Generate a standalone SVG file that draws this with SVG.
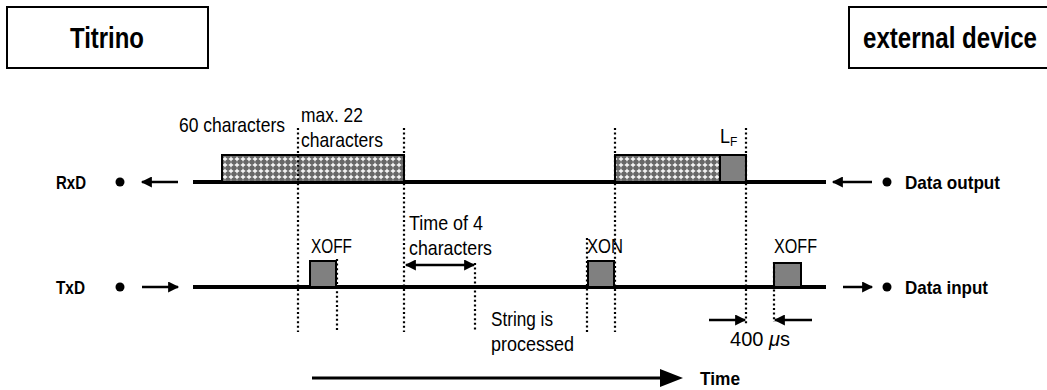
<svg xmlns="http://www.w3.org/2000/svg" width="1047" height="390" viewBox="0 0 1047 390">
  <style>
    .box { fill: #fff; stroke: #000; stroke-width: 2; }
    .title { font-family: "Liberation Sans", Arial, sans-serif; font-weight: bold; font-size: 30px; fill: #000; }
    .lbl { font-family: "Liberation Sans", Arial, sans-serif; font-weight: bold; font-size: 19px; fill: #000; }
    .txt { font-family: "Liberation Sans", Arial, sans-serif; font-size: 21px; fill: #000; }
    .sig { stroke: #000; stroke-width: 4; fill: none; }
    .dot { stroke: #000; stroke-width: 2.2; stroke-dasharray: 2 2.6; fill: none; }
    .arr { stroke: #000; stroke-width: 2.5; fill: none; }
    .hatch { fill: url(#xhatch); stroke: #000; stroke-width: 2; }
    .char { fill: #808080; stroke: #000; stroke-width: 2; }
  </style>
  <defs>
    <pattern id="xhatch" width="6" height="6" patternUnits="userSpaceOnUse">
      <rect width="6" height="6" fill="#686868"/>
      <path d="M3 0.8V5.2M0.8 3H5.2" stroke="#fff" stroke-width="1.3"/>
    </pattern>
    <marker id="ah" viewBox="0 0 10 10" refX="9" refY="5" markerWidth="5.5" markerHeight="4.4" markerUnits="strokeWidth" orient="auto-start-reverse">
      <path d="M0 0L10 5L0 10Z" fill="#000"/>
    </marker>
  </defs>

  <!-- devices -->
  <g id="titrino">
    <rect class="box" x="7" y="7" width="201" height="61"/>
    <text class="title" x="70" y="48" textLength="74" lengthAdjust="spacingAndGlyphs">Titrino</text>
  </g>
  <g id="external-device">
    <!-- box continues past the right border -->
    <path class="box" d="M1047 7H849V68H1047"/>
    <text class="title" x="863" y="48" textLength="174" lengthAdjust="spacingAndGlyphs">external device</text>
  </g>

  <!-- signal lines and ends -->
  <g id="rxd">
    <text class="lbl" x="56" y="189" textLength="30" lengthAdjust="spacingAndGlyphs">RxD</text>
    <circle cx="120" cy="182" r="4.5"/>
    <line class="sig" x1="193" y1="182" x2="826" y2="182"/>
    <circle cx="887" cy="182" r="4.5"/>
    <text class="lbl" x="905" y="189" textLength="95" lengthAdjust="spacingAndGlyphs">Data output</text>
  </g>
  <g id="txd">
    <text class="lbl" x="56" y="294" textLength="29" lengthAdjust="spacingAndGlyphs">TxD</text>
    <circle cx="120" cy="287" r="4.5"/>
    <line class="sig" x1="193" y1="287" x2="826" y2="287"/>
    <circle cx="887" cy="287" r="4.5"/>
    <text class="lbl" x="905" y="294" textLength="83" lengthAdjust="spacingAndGlyphs">Data input</text>
  </g>

  <!-- transmitted characters -->
  <g id="rx-block-1">
    <rect class="hatch" x="222" y="155" width="182" height="27"/>
  </g>
  <g id="rx-block-2">
    <rect class="hatch" x="615" y="155" width="105" height="27"/>
    <rect class="char" x="720" y="155" width="26" height="27"/>
    <text class="txt" x="720" y="143"><tspan textLength="10" lengthAdjust="spacingAndGlyphs">L</tspan><tspan font-size="12" dy="3">F</tspan></text>
  </g>
  <g id="xoff-1">
    <rect class="char" x="310" y="261" width="26" height="26"/>
    <text class="txt" x="311" y="253" textLength="41" lengthAdjust="spacingAndGlyphs">XOFF</text>
  </g>
  <g id="xon">
    <rect class="char" x="588" y="261" width="26" height="26"/>
    <text class="txt" x="587" y="253" textLength="36" lengthAdjust="spacingAndGlyphs">XON</text>
  </g>
  <g id="xoff-2">
    <rect class="char" x="774" y="263" width="27" height="24"/>
    <text class="txt" x="774" y="253" textLength="43" lengthAdjust="spacingAndGlyphs">XOFF</text>
  </g>

  <!-- timing marks -->
  <g id="timing-marks">
    <line class="dot" x1="298" y1="128" x2="298" y2="332"/>
    <line class="dot" x1="404" y1="128" x2="404" y2="332"/>
    <line class="dot" x1="615" y1="128" x2="615" y2="332"/>
    <line class="dot" x1="746" y1="128" x2="746" y2="325"/>
    <line class="dot" x1="337" y1="259" x2="337" y2="332"/>
    <line class="dot" x1="475" y1="263" x2="475" y2="332"/>
    <line class="dot" x1="587" y1="238" x2="587" y2="332"/>
    <line class="dot" x1="774" y1="262" x2="774" y2="322"/>
  </g>

  <!-- text notes -->
  <g id="notes">
    <text class="txt" x="179" y="132" textLength="106" lengthAdjust="spacingAndGlyphs">60 characters</text>
    <text class="txt" x="301" y="122" textLength="62" lengthAdjust="spacingAndGlyphs">max. 22</text>
    <text class="txt" x="301" y="147" textLength="82" lengthAdjust="spacingAndGlyphs">characters</text>
    <text class="txt" x="409" y="230" textLength="74" lengthAdjust="spacingAndGlyphs">Time of 4</text>
    <text class="txt" x="409" y="255" textLength="83" lengthAdjust="spacingAndGlyphs">characters</text>
    <text class="txt" x="491" y="326" textLength="62" lengthAdjust="spacingAndGlyphs">String is</text>
    <text class="txt" x="491" y="351" textLength="83" lengthAdjust="spacingAndGlyphs">processed</text>
    <text class="txt" x="730" y="346" textLength="60" lengthAdjust="spacingAndGlyphs">400 <tspan font-style="italic">μ</tspan>s</text>
    <text class="lbl" x="700" y="385" textLength="40" lengthAdjust="spacingAndGlyphs">Time</text>
  </g>

  <!-- connectors -->
  <g id="connectors">
    <line class="arr" x1="178" y1="182" x2="142" y2="182" marker-end="url(#ah)"/>
    <line class="arr" x1="142" y1="287" x2="178" y2="287" marker-end="url(#ah)"/>
    <line class="arr" x1="872" y1="182" x2="833" y2="182" marker-end="url(#ah)"/>
    <line class="arr" x1="843" y1="287" x2="872" y2="287" marker-end="url(#ah)"/>
    <line class="arr" x1="406" y1="265" x2="474" y2="265" marker-start="url(#ah)" marker-end="url(#ah)"/>
    <line class="arr" x1="709" y1="320" x2="745" y2="320" marker-end="url(#ah)"/>
    <line class="arr" x1="812" y1="320" x2="775" y2="320" marker-end="url(#ah)"/>
    <line stroke="#000" stroke-width="3" x1="312" y1="378" x2="662" y2="378"/>
    <path d="M660 369L683 378L660 387Z" fill="#000"/>
  </g>
</svg>
